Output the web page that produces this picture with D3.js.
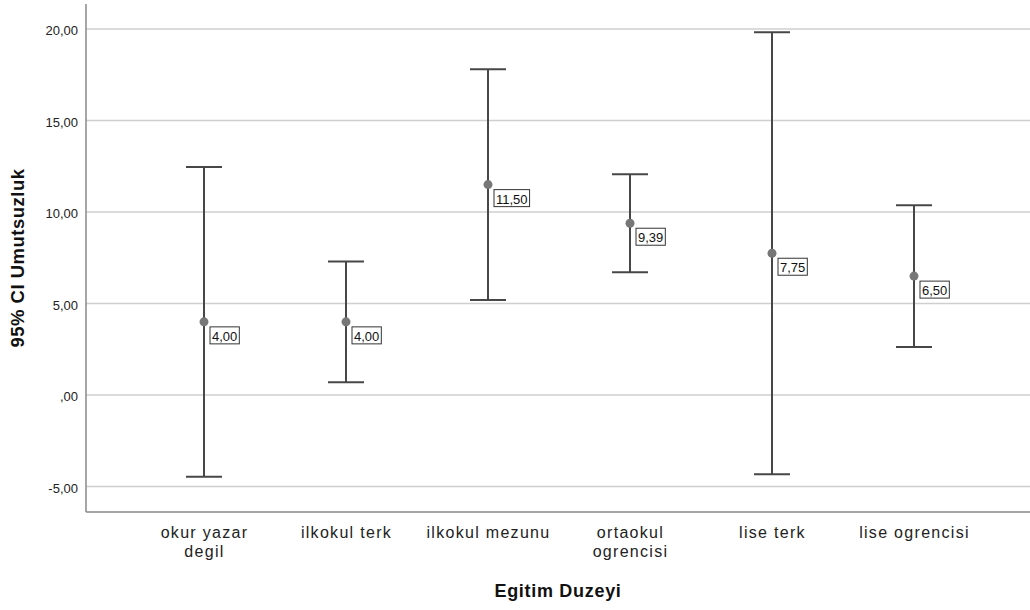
<!DOCTYPE html>
<html><head><meta charset="utf-8">
<script src="https://cdn.jsdelivr.net/npm/d3@7"></script>
<style>body{margin:0;background:#fff;} text{font-family:"Liberation Sans",Arial,sans-serif;}</style>
</head><body>
<svg id="c" width="1030" height="610"></svg>
<script>
const categories = [["okur yazar","degil"],["ilkokul terk"],["ilkokul mezunu"],["ortaokul","ogrencisi"],["lise terk"],["lise ogrencisi"]];
const means = [4.00, 4.00, 11.50, 9.39, 7.75, 6.50];
const lower = [-4.46, 0.70, 5.19, 6.71, -4.33, 2.63];
const upper = [12.46, 7.30, 17.81, 12.07, 19.83, 10.37];
const yTicks = [-5, 0, 5, 10, 15, 20];
const yLabels = ["-5,00", ",00", "5,00", "10,00", "15,00", "20,00"];
const meanLabels = ["4,00","4,00","11,50","9,39","7,75","6,50"];

const svg = d3.select("#c");
const L = 86, R = 1030, T = 4, B = 512;
const y = d3.scaleLinear().domain([-6.39, 21.37]).range([B, T]);
const x = d3.scalePoint().domain(d3.range(categories.length)).range([204, 914]);

// gridlines
svg.append("g").selectAll("line").data(yTicks).join("line")
  .attr("x1", L).attr("x2", R).attr("y1", d => y(d)).attr("y2", d => y(d))
  .attr("stroke", "#cfcfcf").attr("stroke-width", 1.4);

// y axis
const yAxis = d3.axisLeft(y).tickValues(yTicks).tickSize(0).tickPadding(8).tickFormat((d,i) => yLabels[i]);
const ga = svg.append("g").attr("transform", `translate(${L},0)`).call(yAxis);
ga.select(".domain").remove();
ga.selectAll("text").attr("font-size", 13).attr("fill", "#222").attr("font-family", "Liberation Sans, Arial").attr("dy", "0.42em");

// axes lines
svg.append("line").attr("x1", L).attr("x2", L).attr("y1", T).attr("y2", B).attr("stroke", "#888").attr("stroke-width", 1.5);
svg.append("line").attr("x1", L).attr("x2", R).attr("y1", B).attr("y2", B).attr("stroke", "#888").attr("stroke-width", 1.5);

// x axis labels
const xAxis = d3.axisBottom(x).tickSize(0).tickFormat(() => "");
const gx = svg.append("g").attr("transform", `translate(0,${B})`).call(xAxis);
gx.select(".domain").remove();
gx.selectAll(".tick").each(function(d) {
  const t = d3.select(this).append("text").attr("text-anchor", "middle").attr("fill", "#222")
    .attr("font-size", 16).attr("letter-spacing", 1.3);
  categories[d].forEach((s, j) => t.append("tspan").attr("x", 0).attr("y", 26 + j * 19).text(s));
});

// error bars
const cap = 18;
const g = svg.append("g");
categories.forEach((c, i) => {
  const cx = x(i);
  g.append("line").attr("x1", cx).attr("x2", cx).attr("y1", y(upper[i])).attr("y2", y(lower[i])).attr("stroke", "#474747").attr("stroke-width", 2);
  g.append("line").attr("x1", cx - cap).attr("x2", cx + cap).attr("y1", y(upper[i])).attr("y2", y(upper[i])).attr("stroke", "#474747").attr("stroke-width", 2);
  g.append("line").attr("x1", cx - cap).attr("x2", cx + cap).attr("y1", y(lower[i])).attr("y2", y(lower[i])).attr("stroke", "#474747").attr("stroke-width", 2);
  g.append("circle").attr("cx", cx).attr("cy", y(means[i])).attr("r", 4.5).attr("fill", "#777");
  const tx = g.append("text").attr("x", cx + 8).attr("y", y(means[i]) + 19).attr("font-size", 13).attr("fill", "#111").text(meanLabels[i]);
  const bb = tx.node().getBBox();
  g.insert("rect", "text").attr("x", cx + 6).attr("y", y(means[i]) + 5).attr("width", bb.width + 4).attr("height", 17)
    .attr("fill", "#fff").attr("stroke", "#333").attr("stroke-width", 1);
});

// titles
svg.append("text").attr("x", 558).attr("y", 597).attr("text-anchor", "middle").attr("font-size", 18).attr("letter-spacing", 0.7).attr("font-weight", "bold").attr("fill", "#111").text("Egitim Duzeyi");
svg.append("text").attr("transform", "translate(24,258) rotate(-90)").attr("text-anchor", "middle").attr("font-size", 18.5).attr("letter-spacing", 0.5).attr("font-weight", "bold").attr("fill", "#111").text("95% CI Umutsuzluk");
</script>
</body></html>
